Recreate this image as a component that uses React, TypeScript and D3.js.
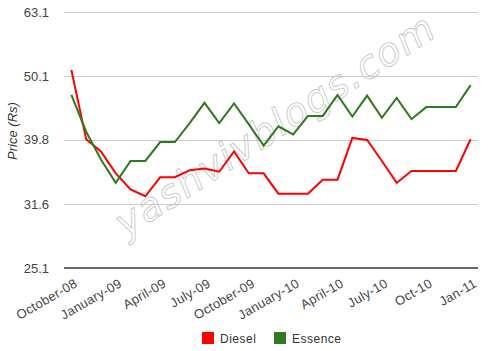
import React from "react";
import * as d3 from "d3";

const months = [
  "Oct-08","Nov-08","Dec-08","Jan-09","Feb-09","Mar-09","Apr-09","May-09","Jun-09","Jul-09",
  "Aug-09","Sep-09","Oct-09","Nov-09","Dec-09","Jan-10","Feb-10","Mar-10","Apr-10","May-10",
  "Jun-10","Jul-10","Aug-10","Sep-10","Oct-10","Nov-10","Dec-10","Jan-11",
];
const tickLabels = [
  "October-08","January-09","April-09","July-09","October-09",
  "January-10","April-10","July-10","Oct-10","Jan-11",
];
const diesel = [
  51.2, 39.9, 38.2, 35.3, 33.3, 32.5, 34.8, 34.8, 35.7, 35.9,
  35.5, 38.2, 35.3, 35.3, 32.8, 32.8, 32.8, 34.5, 34.5, 40.1,
  39.8, 36.9, 34.1, 35.6, 35.6, 35.6, 35.6, 39.9,
];
const essence = [
  46.8, 41.0, 37.1, 34.1, 36.9, 36.9, 39.5, 39.5, 42.3, 45.5,
  42.3, 45.4, 42.1, 39.0, 41.8, 40.6, 43.4, 43.4, 46.8, 43.3,
  46.7, 43.1, 46.3, 42.9, 44.8, 44.8, 44.8, 48.5,
];
const yTicks = [25.1, 31.6, 39.8, 50.1, 63.1];
const seriesNames = ["Diesel", "Essence"];
const seriesColors = ["#ff0000", "#2f7a1f"];

export default function App() {
  const W = 500, H = 351;
  const left = 64, right = 478, top = 12, bottom = 268;
  const x = d3.scalePoint<string>().domain(months).range([left, right]).padding(0.5);
  const y = d3.scaleLog().domain([25.1, 63.1]).range([bottom, top]);
  const line = d3.line<number>()
    .x((_, i) => x(months[i]) as number)
    .y((d) => y(d));
  const series = [diesel, essence];
  const font = "'Liberation Sans', Arial, sans-serif";
  return (
    <svg width={W} height={H} style={{ position: "absolute", left: 0, top: 0 }} fontFamily={font}>
      <rect width={W} height={H} fill="#fff" />
      {yTicks.slice(1).map((t) => (
        <line key={t} x1={left} x2={right} y1={Math.round(y(t)) + 0.5} y2={Math.round(y(t)) + 0.5} stroke="#cccccc" strokeWidth={1} />
      ))}
      {yTicks.map((t) => (
        <text key={t} x={49} y={y(t) + 4.5} textAnchor="end" fontSize={13} fill="#444">{t.toFixed(1)}</text>
      ))}
      <text transform={`translate(17,131) rotate(-90)`} textAnchor="middle" fontSize={13} fontStyle="italic" fill="#333">Price (Rs)</text>
      <text
        transform="translate(126,238) rotate(-33)"
        fontSize={39}
        fontStyle="italic"
        fill="none"
        stroke="#c4c4c4"
        strokeWidth={0.8}
        fontFamily="'DejaVu Sans', sans-serif"
        letterSpacing={1.5}
      >yashvivblogs.com</text>
      {series.map((s, k) => (
        <path key={k} d={line(s) || ""} fill="none" stroke={seriesColors[k]} strokeWidth={2} strokeLinejoin="miter" />
      ))}
      <line x1={left} x2={right} y1={bottom} y2={bottom} stroke="#666" strokeWidth={2} />
      {tickLabels.map((lab, i) => {
        const px = x(months[i * 3]) as number;
        return (
          <text key={lab} transform={`translate(${px + 7},286) rotate(-30)`} textAnchor="end" fontSize={13} fill="#444" letterSpacing={0.3}>{lab}</text>
        );
      })}
      {seriesNames.map((n, k) => {
        const lx = k === 0 ? 202 : 274;
        return (
          <g key={n}>
            <rect x={lx} y={332} width={12} height={12} fill={seriesColors[k]} />
            <text x={lx + 18} y={343} fontSize={12} fill="#333" letterSpacing={0.5}>{n}</text>
          </g>
        );
      })}
    </svg>
  );
}
